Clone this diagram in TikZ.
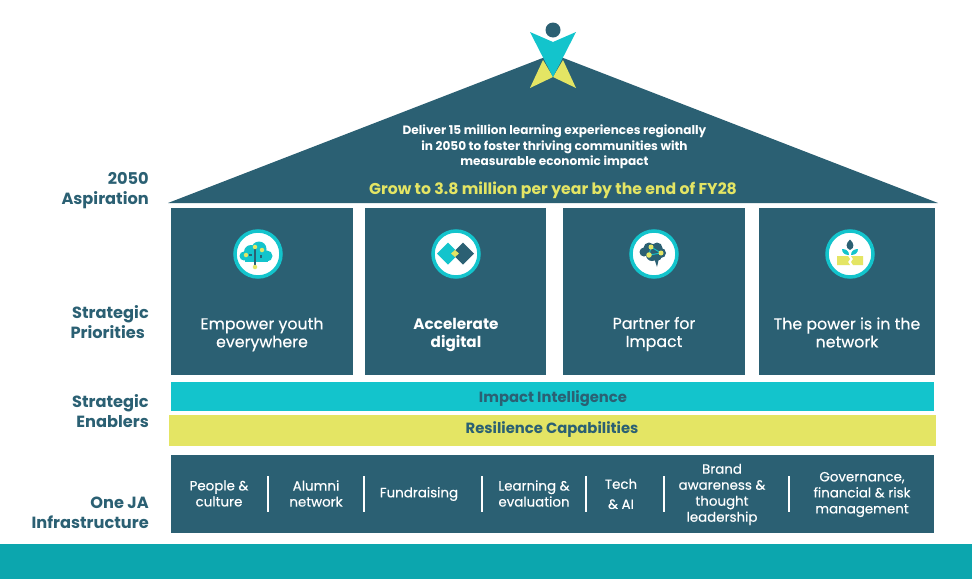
\documentclass[tikz,border=0pt]{standalone}
\usepackage{fontspec}
\setmainfont{Poppins}
\newfontfamily\medfont[FakeBold=0.35]{Poppins}
\usepackage{xcolor}
\usetikzlibrary{shapes,positioning,calc}
\definecolor{jadark}{HTML}{2B6073}
\definecolor{jacyan}{HTML}{13C4CC}
\definecolor{jayellow}{HTML}{E4E564}
\definecolor{jaband}{HTML}{0CA6AE}

\begin{document}
\begin{tikzpicture}[x=1pt, y=-1pt]
        % Style definitions
        \tikzset{
            pillar/.style={fill=jadark, minimum height=167pt},
            pillartxt/.style={text=white, align=center, font=\fontsize{15.8}{18}\selectfont\medfont},
            bar/.style={minimum height=#1, anchor=west},
            bartxt/.style={text=jadark, font=\fontsize{14.8}{16}\selectfont\bfseries},
            sidelabel/.style={anchor=east, inner xsep=0pt, align=right, text=jadark, font=\fontsize{16.2}{20}\selectfont\bfseries},
            infra/.style={text=white, align=center, font=\fontsize{13.4}{16}\selectfont\medfont},
            divider/.style={draw=white, line width=2.5pt},
            badge/.style={circle, draw=jacyan, fill=white, line width=3.5pt, minimum size=46pt, inner sep=0pt},
            dot/.style={circle, fill=jayellow, inner sep=0pt, minimum size=#1}
        }
        \useasboundingbox (0,0) rectangle (972,579);

        % Bottom band
        \fill [jaband] (0,544) rectangle (972,579);

        % Roof
        \coordinate (eaveL) at (168,203);
        \coordinate (eaveR) at (938,203);
        \coordinate (apex) at (553,54);
        \fill [jadark] (eaveL) -- (apex) -- (eaveR) -- cycle;
        \node [text=white, align=center, font=\fontsize{12.1}{15.5}\selectfont\bfseries] (deliver) at (554.5,147) {Deliver 15 million learning experiences regionally\\in 2050 to foster thriving communities with\\measurable economic impact};
        \node [text=jayellow, font=\fontsize{15.7}{16}\selectfont\bfseries] (grow) at (553,190) {Grow to 3.8 million per year by the end of FY28};

        % Figure on top of the roof
        \fill [jayellow] (543,60) -- (553,77) -- (530,88) -- cycle;
        \fill [jayellow] (563,60) -- (553,77) -- (576,88) -- cycle;
        \fill [jacyan] (530,32) -- (553,42) -- (576,32) -- (553,77) -- cycle;
        \node [circle, fill=jadark, minimum size=15pt, inner sep=0pt] (head) at (553,30) {};

        % Pillars
        \node [pillar, minimum width=182pt] (empower) at (262,291.5) {};
        \node [pillar, minimum width=181pt] (accelerate) at (455.5,291.5) {};
        \node [pillar, minimum width=182pt] (partner) at (654,291.5) {};
        \node [pillar, minimum width=176pt] (power) at (847,291.5) {};
        \node [pillartxt] (empowertxt) at (262,334.5) {Empower youth\\everywhere};
        \node [pillartxt, font=\fontsize{15.2}{18}\selectfont\bfseries] (acceleratetxt) at (456,335) {Accelerate\\digital};
        \node [pillartxt] (partnertxt) at (654,334) {Partner for\\Impact};
        \node [pillartxt] (powertxt) at (847,332.5) {The power is in the\\network};

        % Icons
        \node [badge] (cloud) at (258,254) {};
        \fill [jacyan] (244,256) circle (4.5) (251,252) circle (7) (259,249) circle (7.5) (267,256) circle (5.5);
        \fill [jacyan] (245,253) rectangle (268,261.5);
        \draw [jadark, line width=1.1pt] (255,247) -- (255,267) (249,255) -- (252,255) (261,258) -- (261,255);
        \node [dot=4.5pt] (clouda) at (255,247) {};
        \node [dot=4.5pt] (cloudb) at (246,255) {};
        \node [dot=4.5pt] (cloudc) at (262,250) {};
        \node [dot=4.5pt] (cloudd) at (255,267) {};

        \node [badge] (diamonds) at (456,254) {};
        \fill [jacyan] (437,253.5) -- (448,242.5) -- (459,253.5) -- (448,264.5) -- cycle;
        \fill [jadark] (452,253.5) -- (463,242.5) -- (474,253.5) -- (463,264.5) -- cycle;
        \fill [jayellow] (451,253.5) -- (455,250) -- (459,253.5) -- (455,257) -- cycle;

        \node [badge] (brain) at (654,254) {};
        \fill [jadark] (644,252) circle (4.5) (649,248) circle (5.5) (657,248) circle (5.5) (661,253) circle (5) (652,255) circle (6) (658,257) circle (3.5);
        \fill [jadark] (654,258) -- (659,258) -- (657,267) -- cycle;
        \draw [jacyan, line width=0.9pt] (651,247) -- (661,253) -- (649,255) -- cycle;
        \node [dot=5pt] (braina) at (651,247) {};
        \node [dot=5.5pt] (brainb) at (649,255) {};
        \node [dot=5pt] (brainc) at (661,253) {};

        \node [badge] (sprout) at (850,254) {};
        \fill [jadark] (850,239.5) .. controls (854,243) and (855,248) .. (850,250) .. controls (845,248) and (846,243) .. (850,239.5) -- cycle;
        \fill [jacyan] (842,249) .. controls (846,249) and (849,251) .. (849,255) .. controls (845,255) and (842,253) .. (842,249) -- cycle;
        \fill [jacyan] (858,249) .. controls (854,249) and (851,251) .. (851,255) .. controls (855,255) and (858,253) .. (858,249) -- cycle;
        \fill [jayellow] (837,256) -- (848,256) -- (850,259) -- (848,262) -- (850,265) -- (837,265) -- cycle;
        \fill [jayellow] (863,256) -- (851,256) -- (853,259) -- (851,262) -- (853,265) -- (863,265) -- cycle;

        % Enabler bars
        \node [bar=29pt, fill=jacyan, minimum width=763pt] (impact) at (171,396.5) {};
        \node [bartxt] (impacttxt) at (553,398.5) {Impact Intelligence};
        \node [bar=31pt, fill=jayellow, minimum width=767pt] (resilience) at (169,430.5) {};
        \node [bartxt] (resiliencetxt) at (552,429.5) {Resilience Capabilities};

        % Infrastructure
        \node [fill=jadark, minimum width=763pt, minimum height=78pt, anchor=west] (infrabox) at (171,494) {};
        \node [infra] (people) at (219,493.5) {People \&\\culture};
        \node [infra] (alumni) at (316,493.5) {Alumni\\network};
        \node [infra] (fund) at (419,494) {Fundraising};
        \node [infra] (learning) at (534,493.5) {Learning \&\\evaluation};
        \node [infra, font=\fontsize{13.4}{20}\selectfont\medfont] (tech) at (621,494) {Tech\\\& AI};
        \node [infra] (brand) at (722,494.5) {Brand\\awareness \&\\thought\\leadership};
        \node [infra] (gov) at (862,494.5) {Governance,\\financial \& risk\\management};
        \foreach \x in {268,364,482,586,664,789} {
            \draw [divider] (\x,476) -- (\x,512);
        }

        % Row labels
        \node [sidelabel] (aspiration) at (149,191) {2050\\Aspiration};
        \node [sidelabel] (priorities) at (149,322) {Strategic\\Priorities\hspace*{4pt}};
        \node [sidelabel] (enablers) at (149,411) {Strategic\\Enablers};
        \node [sidelabel] (infrastructure) at (149,513) {One JA\\Infrastructure};
    \end{tikzpicture}
\end{document}
